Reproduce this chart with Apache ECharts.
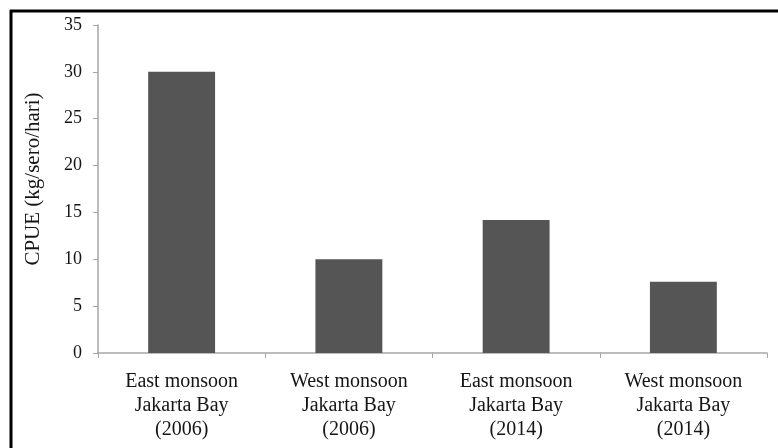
<!DOCTYPE html>
<html><head><meta charset="utf-8">
<script src="https://cdn.jsdelivr.net/npm/echarts@6/dist/echarts.min.js"></script>
<style>html,body{margin:0;padding:0;background:#fff}#c{width:778px;height:448px}</style>
</head><body><div id="c"></div>
<script>
const categories = ["East monsoon\nJakarta Bay\n(2006)", "West monsoon\nJakarta Bay\n(2006)", "East monsoon\nJakarta Bay\n(2014)", "West monsoon\nJakarta Bay\n(2014)"];
const values = [30, 10, 14.2, 7.6];
const yTicks = { min: 0, max: 35, interval: 5 };
const yName = "CPUE (kg/sero/hari)";

const chart = echarts.init(document.getElementById('c'));
const font = "'Liberation Serif', 'Times New Roman', serif";
chart.setOption({
  animation: false,
  backgroundColor: '#fff',
  graphic: [
    { type: 'line', shape: { x1: 10, y1: 11, x2: 778, y2: 11 }, style: { stroke: '#000', lineWidth: 3 } },
    { type: 'line', shape: { x1: 11, y1: 10, x2: 11, y2: 448 }, style: { stroke: '#000', lineWidth: 3 } }
  ],
  grid: { left: 98, right: 11, top: 25, bottom: 95 },
  xAxis: {
    type: 'category', data: categories,
    axisLine: { lineStyle: { color: '#a6a6a6', width: 1.5 } },
    axisTick: { show: true, length: 5, lineStyle: { color: '#a6a6a6' } },
    axisLabel: { color: '#151515', fontFamily: font, fontSize: 20, lineHeight: 24, margin: 17 }
  },
  yAxis: {
    type: 'value', min: yTicks.min, max: yTicks.max, interval: yTicks.interval,
    name: yName, nameLocation: 'middle', nameGap: 54,
    nameTextStyle: { color: '#151515', fontFamily: font, fontSize: 21, padding: [0, 0, 0, 20] },
    axisLine: { show: true, lineStyle: { color: '#a6a6a6', width: 1.5 } },
    axisTick: { show: true, length: 5, lineStyle: { color: '#a6a6a6' } },
    splitLine: { show: false },
    axisLabel: { color: '#151515', fontFamily: font, fontSize: 18, margin: 16 }
  },
  series: [{
    type: 'bar', data: values, barCategoryGap: '60%',
    itemStyle: { color: '#555555' }
  }]
});
</script></body></html>
